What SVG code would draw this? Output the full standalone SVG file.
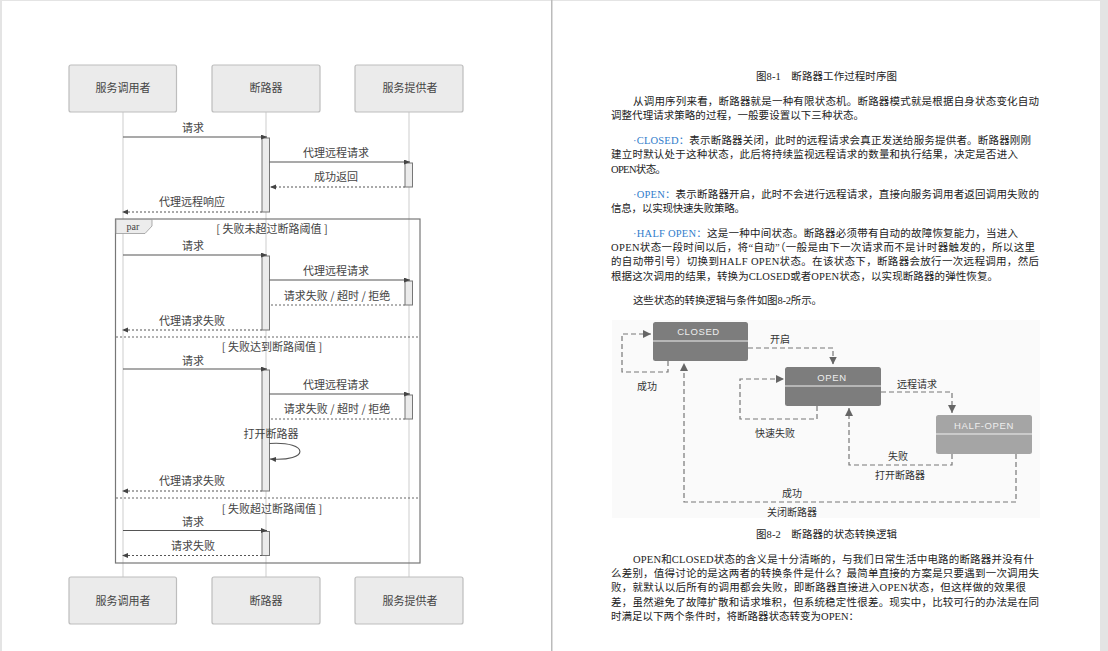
<svg xmlns="http://www.w3.org/2000/svg" width="1108" height="651" viewBox="0 0 1108 651">
<style>
.lb{font-family:"Noto Sans CJK SC","Noto Sans",sans-serif;font-size:11px;fill:#444;text-anchor:middle}
.an{fill:#ebebeb;stroke:#bdbdbd;stroke-width:1.2}
.life{stroke:#dedede;stroke-width:1.5;fill:none}
.act{fill:#ebebeb;stroke:#777;stroke-width:1}
.sol{stroke:#555;stroke-width:1.1;fill:none;marker-end:url(#ah)}
.dot{stroke:#555;stroke-width:1.1;stroke-dasharray:2 2;fill:none;marker-end:url(#ah)}
.div{stroke:#666;stroke-width:1;stroke-dasharray:2 2;fill:none}
.st{stroke:#f0f0f0;stroke-width:1;fill:none}
.t{font-family:"Liberation Serif","Noto Sans CJK SC",serif;font-size:10.5px;fill:#222}
.bl{fill:#2f7ccb}
.sl{font-family:"Liberation Sans","Noto Sans CJK SC",sans-serif;font-size:9.5px;fill:#eee;text-anchor:middle;letter-spacing:.6px}
.sd{stroke:#777;stroke-width:1.2;stroke-dasharray:5 3;fill:none;marker-end:url(#sa)}
.sc{font-family:"Noto Sans CJK SC",sans-serif;font-size:10px;fill:#333;text-anchor:middle}
</style>
<defs>
<marker id="ah" markerUnits="userSpaceOnUse" markerWidth="7" markerHeight="6" refX="6" refY="2.5" orient="auto"><path d="M0 0L6 2.5L0 5z" fill="#444"/></marker>
<marker id="sa" markerUnits="userSpaceOnUse" markerWidth="9" markerHeight="10" refX="8" refY="4" orient="auto"><path d="M0 0L8 4L0 8z" fill="#666"/></marker>
</defs>
<rect width="1108" height="651" fill="#fff"/>
<g id="page-edges" fill="#e4e4e4">
<rect width="1108" height="1"/><rect width="2" height="651"/><rect x="1100" width="8" height="651"/><rect x="551" width="1.5" height="651" fill="#bbb"/>
</g>
<g id="lifelines"><path class="life" d="M123 112V577M266 112V577M409 112V577"/></g>
<g id="par-frame">
<rect x="115.5" y="219" width="304.500" height="344" fill="none" stroke="#777" stroke-width="1.200"/>
<path d="M116 219.500H152V226L145 233.500H116z" fill="#ececec" stroke="#999" stroke-width=".8"/>
<text x="133" y="230" style="font-family:'Liberation Serif',serif;font-size:10px;fill:#444;text-anchor:middle">par</text>
<path class="div" d="M116 337H420M116 498H420"/>
<text class="lb" x="272" y="233">[ 失败未超过断路阈值 ]</text>
<text class="lb" x="272" y="351">[ 失败达到断路阈值 ]</text>
<text class="lb" x="272" y="513">[ 失败超过断路阈值 ]</text>
</g>
<g id="caller-top"><rect class="an" x="69" y="65" width="107.500" height="47" rx="2"/><text class="lb" x="123" y="92">服务调用者</text></g>
<g id="breaker-top"><rect class="an" x="212" y="65" width="108" height="47" rx="2"/><text class="lb" x="266" y="92">断路器</text></g>
<g id="provider-top"><rect class="an" x="355" y="65" width="108" height="47" rx="2"/><text class="lb" x="410" y="92">服务提供者</text></g>
<g id="caller-bottom"><rect class="an" x="69" y="577" width="107.500" height="47" rx="2"/><text class="lb" x="123" y="605">服务调用者</text></g>
<g id="breaker-bottom"><rect class="an" x="212" y="577" width="108" height="47" rx="2"/><text class="lb" x="266" y="605">断路器</text></g>
<g id="provider-bottom"><rect class="an" x="355" y="577" width="108" height="47" rx="2"/><text class="lb" x="410" y="605">服务提供者</text></g>
<g id="activations">
<rect class="act" x="262" y="138" width="7.500" height="74"/>
<rect class="act" x="405" y="163" width="7.500" height="24"/>
<rect class="act" x="262" y="256" width="7.500" height="74"/>
<rect class="act" x="405" y="281" width="7.500" height="24"/>
<rect class="act" x="262" y="370" width="7.500" height="121"/>
<rect class="act" x="405" y="395" width="7.500" height="24"/>
<rect class="act" x="262" y="531.500" width="7.500" height="24"/>
</g>
<g id="sequence-connectors">
<path class="sol" d="M123 137H267"/><path class="sol" d="M269.500 162H410"/><path class="dot" d="M405 187H270"/><path class="dot" d="M262 212H122"/>
<path class="sol" d="M123 255H267"/><path class="sol" d="M269.500 280H410"/><path class="div" d="M405 305H270"/><path class="dot" d="M262 330H122"/>
<path class="sol" d="M123 369H267"/><path class="sol" d="M269.500 394H410"/><path class="div" d="M405 419H270"/>
<path class="sol" d="M269.500 443.500C310 441 310 462 270 459"/>
<path class="dot" d="M262 491H122"/>
<path class="sol" d="M123 530.500H267"/><path class="dot" d="M262 555.500H122"/>
<g>
<text class="lb" x="193" y="132">请求</text><text class="lb" x="336" y="157">代理远程请求</text><text class="lb" x="336" y="181">成功返回</text><text class="lb" x="192" y="206">代理远程响应</text>
<text class="lb" x="193" y="250">请求</text><text class="lb" x="336" y="275">代理远程请求</text><text class="lb" x="337" y="300">请求失败 / 超时 / 拒绝</text><text class="lb" x="192" y="325">代理请求失败</text>
<text class="lb" x="193" y="365">请求</text><text class="lb" x="336" y="389">代理远程请求</text><text class="lb" x="337" y="413">请求失败 / 超时 / 拒绝</text><text class="lb" x="271" y="438">打开断路器</text><text class="lb" x="192" y="485">代理请求失败</text>
<text class="lb" x="193" y="526">请求</text><text class="lb" x="193" y="550">请求失败</text>
</g>
</g>
<g id="page-text">
<text class="t" x="756" y="80" textLength="141">图8-1　断路器工作过程时序图</text>
<text class="t" x="633" y="105" textLength="406">从调用序列来看，断路器就是一种有限状态机。断路器模式就是根据自身状态变化自动</text>
<text class="t" x="611" y="119" textLength="253">调整代理请求策略的过程，一般要设置以下三种状态。</text>
<text class="t" x="633" y="144" textLength="398"><tspan class="bl">·CLOSED：</tspan>表示断路器关闭，此时的远程请求会真正发送给服务提供者。断路器刚刚</text>
<text class="t" x="611" y="158" textLength="407">建立时默认处于这种状态，此后将持续监视远程请求的数量和执行结果，决定是否进入</text>
<text class="t" x="611" y="173" textLength="55">OPEN状态。</text>
<text class="t" x="633" y="198" textLength="406"><tspan class="bl">·OPEN：</tspan>表示断路器开启，此时不会进行远程请求，直接向服务调用者返回调用失败的</text>
<text class="t" x="611" y="212" textLength="134">信息，以实现快速失败策略。</text>
<text class="t" x="633" y="237" textLength="385"><tspan class="bl">·HALF OPEN：</tspan>这是一种中间状态。断路器必须带有自动的故障恢复能力，当进入</text>
<text class="t" x="611" y="251" textLength="424">OPEN状态一段时间以后，将“自动”（一般是由下一次请求而不是计时器触发的，所以这里</text>
<text class="t" x="611" y="265" textLength="428">的自动带引号）切换到HALF OPEN状态。在该状态下，断路器会放行一次远程调用，然后</text>
<text class="t" x="611" y="280" textLength="387">根据这次调用的结果，转换为CLOSED或者OPEN状态，以实现断路器的弹性恢复。</text>
<text class="t" x="633" y="304" textLength="189">这些状态的转换逻辑与条件如图8-2所示。</text>
<text class="t" x="756" y="538" textLength="141">图8-2　断路器的状态转换逻辑</text>
<text class="t" x="633" y="563" textLength="401">OPEN和CLOSED状态的含义是十分清晰的，与我们日常生活中电路的断路器并没有什</text>
<text class="t" x="611" y="577" textLength="428">么差别，值得讨论的是这两者的转换条件是什么？最简单直接的方案是只要遇到一次调用失</text>
<text class="t" x="611" y="591" textLength="415">败，就默认以后所有的调用都会失败，即断路器直接进入OPEN状态，但这样做的效果很</text>
<text class="t" x="611" y="606" textLength="428">差，虽然避免了故障扩散和请求堆积，但系统稳定性很差。现实中，比较可行的办法是在同</text>
<text class="t" x="611" y="620" textLength="248">时满足以下两个条件时，将断路器状态转变为OPEN：</text>
</g>
<rect id="state-figure-background" x="612" y="320" width="428" height="198" fill="#fafafa"/>
<g id="closed"><rect x="653" y="322" width="95" height="39" rx="2.500" fill="#7d7d7d"/><path class="st" d="M653 341H748"/><text class="sl" x="698.500" y="335">CLOSED</text></g>
<g id="open"><rect x="785" y="367" width="96" height="39" rx="2.500" fill="#7d7d7d"/><path class="st" d="M785 386H881"/><text class="sl" x="832" y="380.500">OPEN</text></g>
<g id="half-open"><rect x="936" y="415" width="96" height="39" rx="2.500" fill="#a5a5a5"/><path class="st" d="M936 434H1032"/><text class="sl" x="984" y="428.500">HALF-OPEN</text></g>
<g id="state-connectors">
<path class="sd" d="M668 361V372H622V334H651"/>
<path class="sd" d="M748 348H833V364.500"/>
<path class="sd" d="M817 406V419H740V379H784"/>
<path class="sd" d="M881 392H952V413"/>
<path class="sd" d="M952 454V465H849V408"/>
<path class="sd" d="M1016 454V502H684V363"/>
<text class="sc" x="647" y="390">成功</text>
<text class="sc" x="780" y="343">开启</text>
<text class="sc" x="775" y="437">快速失败</text>
<text class="sc" x="917" y="388">远程请求</text>
<text class="sc" x="898" y="460">失败</text>
<text class="sc" x="900" y="479">打开断路器</text>
<text class="sc" x="792" y="497">成功</text>
<text class="sc" x="792" y="516">关闭断路器</text>
</g>
</svg>
